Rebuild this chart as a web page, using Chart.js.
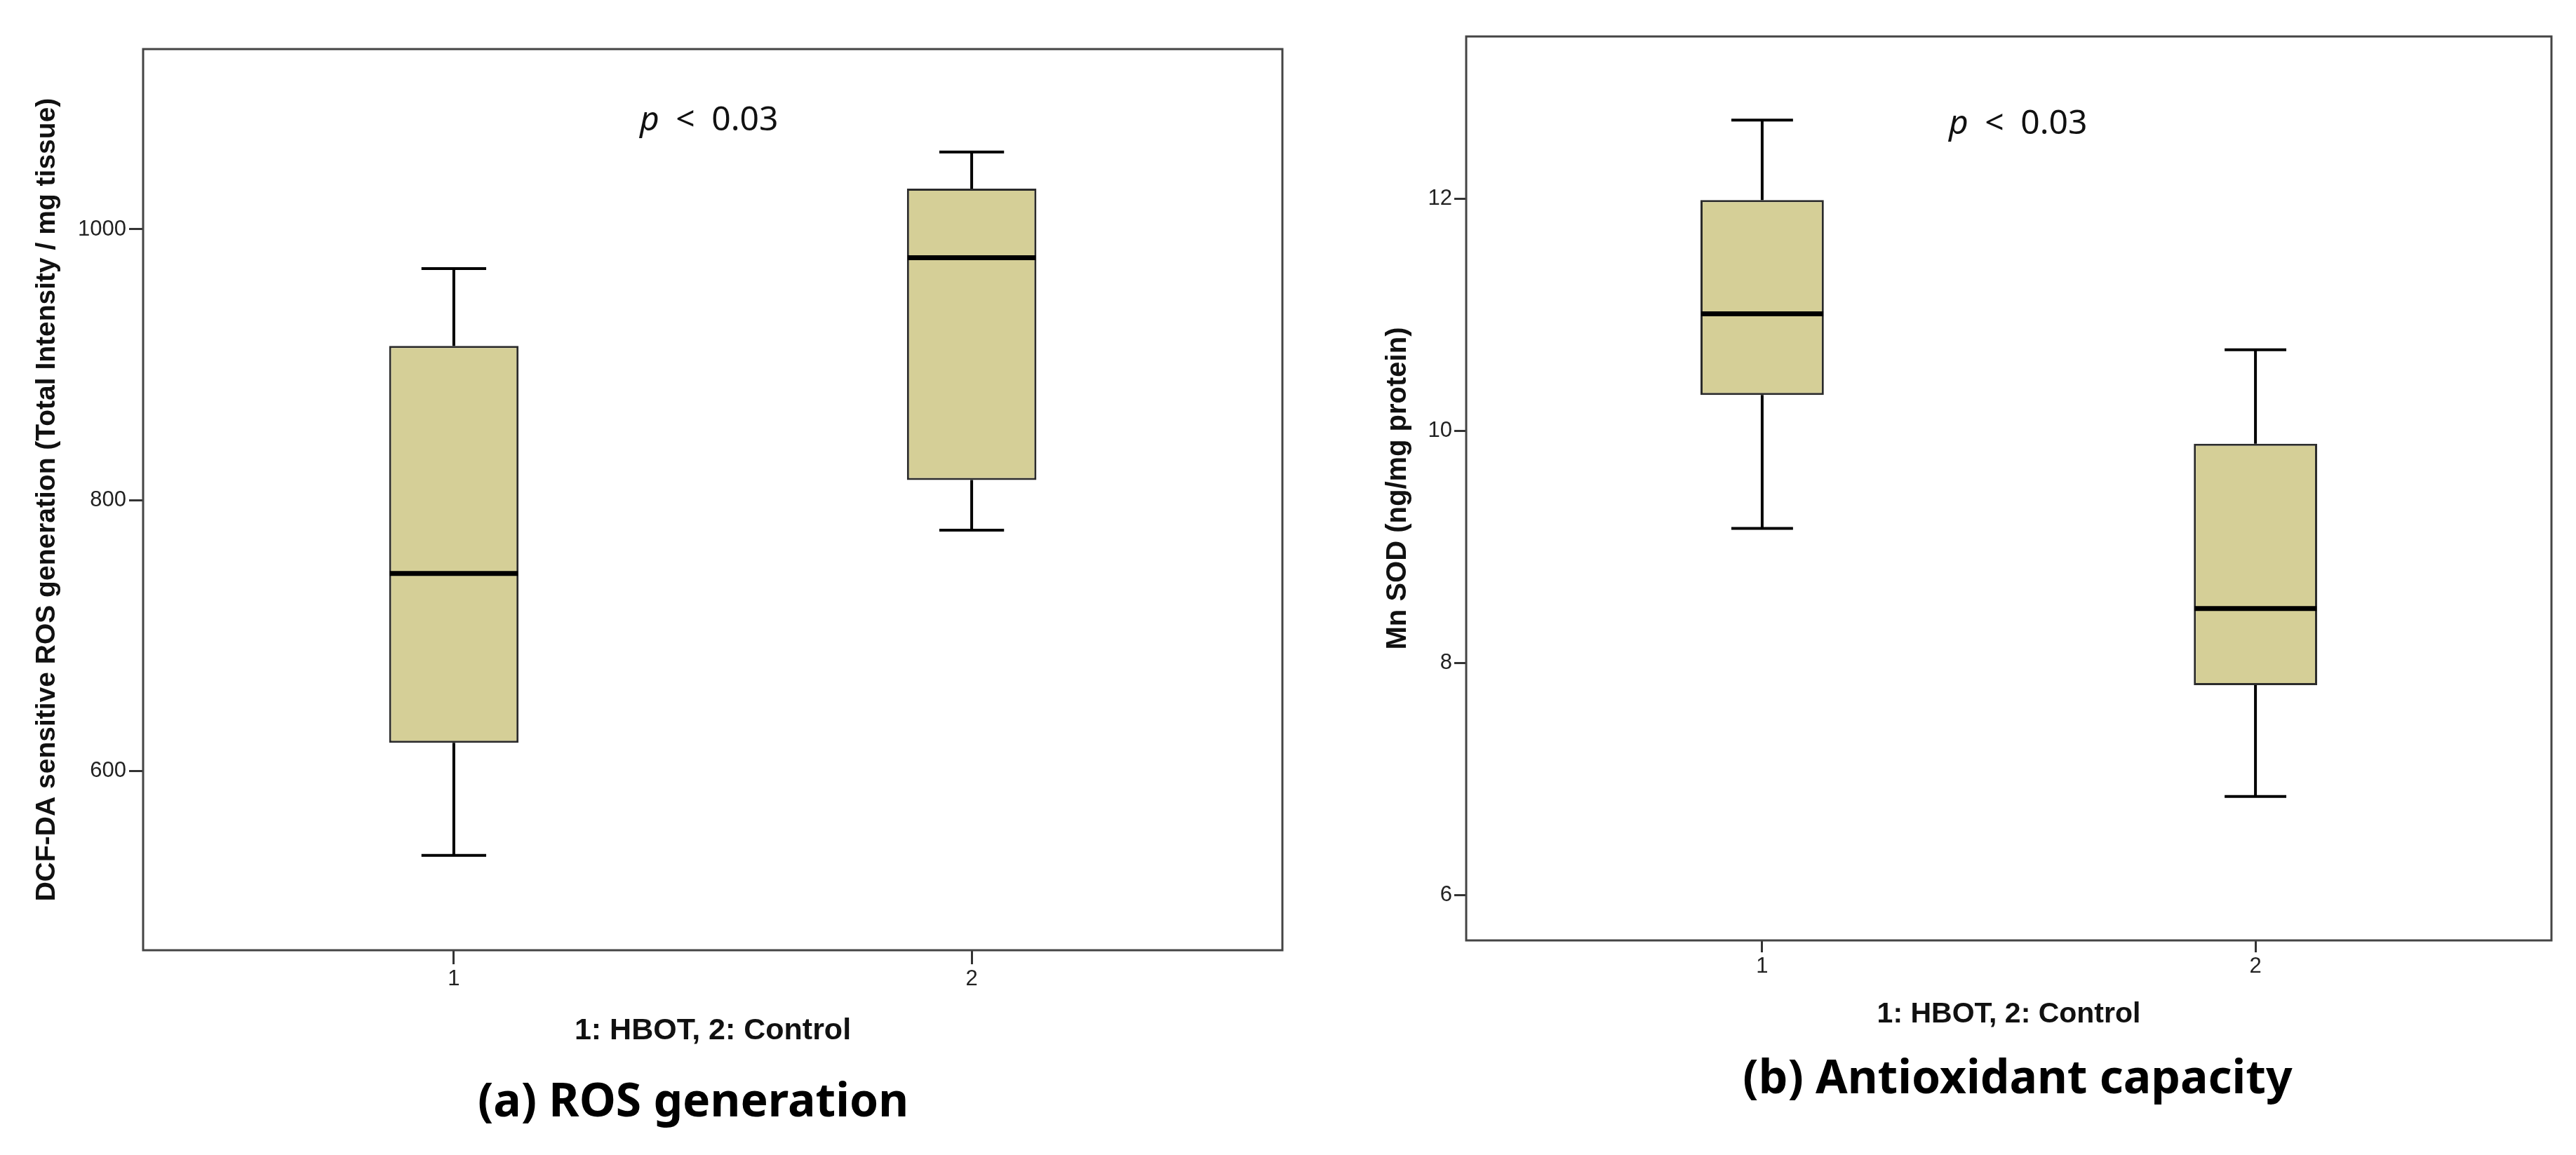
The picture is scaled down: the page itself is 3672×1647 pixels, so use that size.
<!DOCTYPE html>
<html>
<head>
<meta charset="utf-8">
<script src="https://cdn.jsdelivr.net/npm/chart.js@4.4.1/dist/chart.umd.min.js"></script>
<style>
  body { margin: 0; background: #fff; }
  #page { position: relative; width: 3672px; height: 1647px; overflow: hidden; background: #fff; }
  canvas { position: absolute; top: 0; }
  .pval { position: absolute; font-family: "Noto Sans", sans-serif; font-size: 48px; line-height: 48px; color: #111; word-spacing: 11px; white-space: nowrap; }
  .caption { position: absolute; font-family: "Noto Sans", sans-serif; font-weight: bold; font-size: 66px; line-height: 66px; text-align: center; color: #000; white-space: nowrap; }
</style>
</head>
<body>
<div id="page">
  <canvas id="rosChart" width="1900" height="1647" style="left:0px"></canvas>
  <canvas id="sodChart" width="1772" height="1647" style="left:1900px"></canvas>
  <div class="pval" style="left:912px; top:144px"><i>p</i> &lt; 0.03</div>
  <div class="pval" style="left:2778px; top:149px"><i>p</i> &lt; 0.03</div>
  <div class="caption" style="left:588px; width:800px; top:1533px">(a) ROS generation</div>
  <div class="caption" style="left:2476px; width:800px; top:1500px">(b) Antioxidant capacity</div>
</div>
<script>
// groups on the x axis
const groups = ['1', '2']

// (a) DCF-DA sensitive ROS generation
const rosMin = [538, 778]
const rosQ1 = [621, 815]
const rosMedian = [746, 979]
const rosQ3 = [914, 1030]
const rosMax = [971, 1057]
const rosRange = [468, 1133]
const rosTicks = [600, 800, 1000]

// (b) Mn SOD
const sodMin = [9.16, 6.85]
const sodQ1 = [10.31, 7.81]
const sodMedian = [11.01, 8.47]
const sodQ3 = [11.99, 9.89]
const sodMax = [12.68, 10.70]
const sodRange = [5.61, 13.4]
const sodTicks = [6, 8, 10, 12]

const axisFamily = '"Liberation Sans", Arial, sans-serif'

// whiskers, medians and the frame round the plot area
const boxLines = {
  id: 'boxLines',
  afterDatasetsDraw(chart, args, opts) {
    const ctx = chart.ctx
    const yScale = chart.scales.y
    const area = chart.chartArea
    const bars = chart.getDatasetMeta(0).data
    ctx.save()
    ctx.strokeStyle = '#000'
    bars.forEach(function(bar, i){
      let half = bar.width / 2
      let top = yScale.getPixelForValue(opts.q3[i])
      let bottom = yScale.getPixelForValue(opts.q1[i])
      let hi = yScale.getPixelForValue(opts.max[i])
      let lo = yScale.getPixelForValue(opts.min[i])
      let med = yScale.getPixelForValue(opts.median[i])
      ctx.lineWidth = 4
      ctx.beginPath()
      ctx.moveTo(bar.x, top); ctx.lineTo(bar.x, hi)
      ctx.moveTo(bar.x, bottom); ctx.lineTo(bar.x, lo)
      ctx.moveTo(bar.x - half / 2, hi); ctx.lineTo(bar.x + half / 2, hi)
      ctx.moveTo(bar.x - half / 2, lo); ctx.lineTo(bar.x + half / 2, lo)
      ctx.stroke()
      ctx.lineWidth = 7
      ctx.beginPath()
      ctx.moveTo(bar.x - half + 1, med); ctx.lineTo(bar.x + half - 1, med)
      ctx.stroke()
    })
    ctx.lineWidth = 3
    ctx.strokeStyle = '#444'
    ctx.strokeRect(area.left, area.top, area.right - area.left, area.bottom - area.top)
    ctx.restore()
  }
}

function makeBoxChart(canvasId, stats, look) {
  return new Chart(document.getElementById(canvasId), {
    type: 'bar',
    data: {
      datasets: [{
        data: groups.map(function(g, i){ return {x: i + 1, y: [stats.q1[i], stats.q3[i]]} }),
        backgroundColor: '#d5cf97',
        borderColor: '#2b2b2b',
        borderWidth: 3,
        borderSkipped: false,
        categoryPercentage: 1,
        barPercentage: 0.25
      }]
    },
    options: {
      responsive: false,
      animation: false,
      devicePixelRatio: 1,
      layout: { padding: look.padding },
      plugins: {
        legend: { display: false },
        tooltip: { enabled: false },
        boxLines: stats
      },
      scales: {
        x: {
          type: 'linear',
          min: 0.4,
          max: 2.6,
          offset: false,
          afterBuildTicks: function(scale){
            scale.ticks = groups.map(function(g, i){ return {value: i + 1} })
          },
          afterFit: function(scale){ scale.height = look.xHeight },
          ticks: {
            callback: function(v){ return groups[v - 1] },
            font: { family: axisFamily, size: 31 },
            color: '#222',
            padding: look.xPad
          },
          grid: { offset: false, drawOnChartArea: false, tickLength: look.tickLen, tickWidth: 3, tickColor: '#333' },
          border: { display: false },
          title: {
            display: true,
            text: '1: HBOT, 2: Control',
            font: { family: axisFamily, size: look.xTitleSize, weight: 'bold' },
            color: '#111',
            padding: { top: 0, bottom: look.xTitlePad }
          }
        },
        y: {
          min: stats.range[0],
          max: stats.range[1],
          afterBuildTicks: function(scale){
            scale.ticks = stats.ticks.map(function(v){ return {value: v} })
          },
          afterFit: function(scale){ scale.width = look.yWidth },
          ticks: {
            callback: function(v){ return String(v) },
            font: { family: axisFamily, size: 31 },
            color: '#222',
            padding: look.yPad
          },
          grid: { drawOnChartArea: false, tickLength: look.tickLen, tickWidth: 3, tickColor: '#333' },
          border: { display: false },
          title: {
            display: true,
            text: look.yTitle,
            font: { family: axisFamily, size: look.yTitleSize, weight: 'bold' },
            color: '#111',
            padding: { top: look.yTitlePad, bottom: 0 }
          }
        }
      }
    },
    plugins: [boxLines]
  })
}

makeBoxChart('rosChart',
  { min: rosMin, q1: rosQ1, median: rosMedian, q3: rosQ3, max: rosMax, range: rosRange, ticks: rosTicks },
  {
    padding: { left: 0, top: 70, right: 72, bottom: 147 },
    yWidth: 204, xHeight: 145, tickLen: 20, xPad: 3, yPad: 4,
    xTitleSize: 43, xTitlePad: 4,
    yTitle: 'DCF-DA sensitive ROS generation (Total Intensity / mg tissue)', yTitleSize: 39, yTitlePad: 44
  })

makeBoxChart('sodChart',
  { min: sodMin, q1: sodQ1, median: sodMedian, q3: sodQ3, max: sodMax, range: sodRange, ticks: sodTicks },
  {
    padding: { left: 0, top: 52, right: 35, bottom: 167 },
    yWidth: 190, xHeight: 139, tickLen: 17, xPad: 2, yPad: 3,
    xTitleSize: 41, xTitlePad: 9,
    yTitle: 'Mn SOD (ng/mg protein)', yTitleSize: 40, yTitlePad: 69
  })
</script>
</body>
</html>
